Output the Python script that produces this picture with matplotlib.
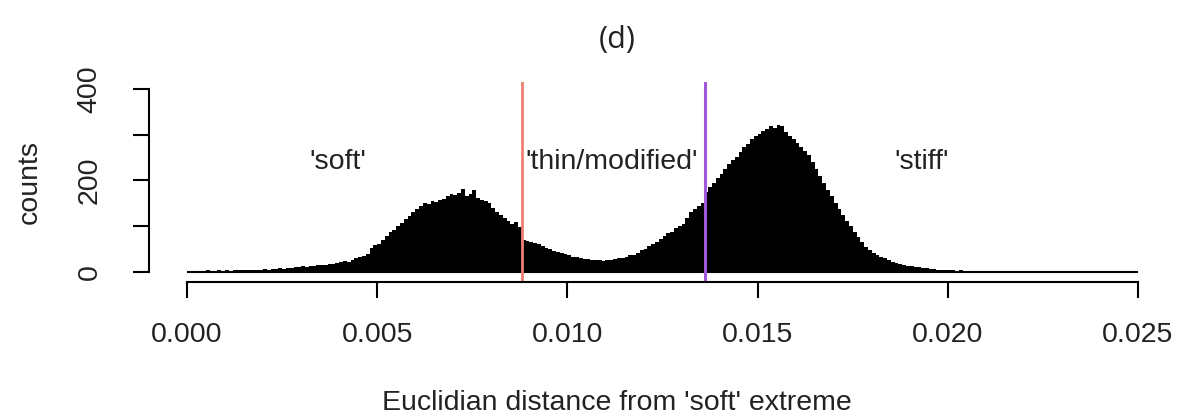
import matplotlib
matplotlib.use("Agg")
import matplotlib.pyplot as plt
import numpy as np

# histogram counts, bins of width 0.0001 starting at 0.000
bin_width = 0.0001
counts = [
    2, 3, 3, 2, 3, 4, 3, 3, 4, 3, 4, 3, 4, 5, 4, 4, 5, 4, 5, 5,
    6, 5, 7, 6, 8, 7, 9, 8, 10, 11,
    12, 11, 14, 13, 15, 16, 15, 18, 17, 20,
    21, 24, 22, 26, 30, 33, 35, 40, 52, 58,
    62, 70, 78, 88, 92, 100, 108, 115, 122, 130,
    138, 145, 150, 148, 155, 152, 158, 160, 165, 170,
    168, 172, 182, 165, 170, 178, 162, 158, 155, 150,
    140, 132, 125, 118, 112, 105, 110, 98, 70, 68,
    66, 64, 60, 56, 52, 50, 45, 44, 42, 40,
    36, 33, 32, 30, 29, 28, 27, 26, 27, 25,
    26, 27, 28, 30, 31, 33, 36, 38, 42, 48,
    50, 56, 62, 66, 72, 78, 85, 88, 95, 100,
    105, 118, 130, 138, 145, 150, 175, 185, 195, 205,
    215, 225, 235, 245, 252, 262, 272, 280, 290, 298,
    302, 308, 312, 318, 315, 322, 318, 306, 298, 290,
    282, 272, 265, 255, 240, 225, 210, 195, 180, 165,
    150, 138, 125, 112, 100, 88, 76, 65, 55, 48,
    42, 36, 33, 30, 26, 22, 20, 18, 16, 14,
    12, 11, 10, 9, 8, 7, 6, 5, 5, 4,
    4, 4, 3, 4, 3, 3, 3, 2, 3, 2,
    2, 3, 2, 2, 2, 1, 2, 2, 1, 2,
    1, 2, 1, 1, 2, 1, 1, 1, 2, 1,
    1, 1, 1, 1, 1, 1, 2, 1, 1, 1,
    1, 1, 1, 0, 1, 1, 1, 0, 1, 1,
]
bin_left = np.arange(len(counts)) * bin_width

# thresholds between classes
cut_soft = 0.00881
cut_stiff = 0.01362

labels = ["'soft'", "'thin/modified'", "'stiff'"]
label_x = [0.00397, 0.01117, 0.01930]
label_y = 240

xticks = [0.000, 0.005, 0.010, 0.015, 0.020, 0.025]
yticks = [0, 100, 200, 300, 400]

plt.rcParams['font.family'] = ['Liberation Sans', 'DejaVu Sans']
fs = 20.5

fig = plt.figure(figsize=(11.79, 4.17), dpi=100)
ax = fig.add_axes([0.1264, 0.3237, 0.8711, 0.4797])

ax.bar(bin_left, counts, width=bin_width, align='edge', color='black', linewidth=0)
ax.hlines(0, 0, 0.025, color='black', lw=1.5)

ax.axvline(cut_soft, color='#F08070', lw=2)
ax.axvline(cut_stiff, color='#A05AD8', lw=2.2)

for t, xx in zip(labels, label_x):
    ax.text(xx, label_y, t, ha='center', va='center', fontsize=fs, color='#222222')

ax.set_xlim(-0.001, 0.026)
ax.set_ylim(-22, 415)

for s in ['top', 'right']:
    ax.spines[s].set_visible(False)
ax.spines['left'].set_bounds(0, 400)
ax.spines['bottom'].set_bounds(0, 0.025)
ax.spines['left'].set_linewidth(1.5)
ax.spines['bottom'].set_linewidth(1.5)

ax.set_xticks(xticks)
ax.set_xticklabels(["%.3f" % v for v in xticks])
ax.set_yticks(yticks)
ax.set_yticklabels(["0", "", "200", "", "400"], rotation=90, va='center')
ax.tick_params(axis='x', length=11.5, width=1.5, pad=17, labelsize=fs, labelcolor='#222222')
ax.tick_params(axis='y', length=11.5, width=1.5, pad=22, labelsize=fs, labelcolor='#222222')

fig.text(0.5233, 0.034, "Euclidian distance from 'soft' extreme", ha='center', va='center',
         fontsize=fs, color='#222222')
fig.text(0.0254, 0.5635, "counts", ha='center', va='center', rotation=90,
         fontsize=fs, color='#222222')

fig.text(0.5233, 0.904, "(d)", ha='center', va='center', fontsize=22,
         family=['Open Sans', 'DejaVu Sans'], color='#222222')

fig.savefig("out.png", dpi=100)
